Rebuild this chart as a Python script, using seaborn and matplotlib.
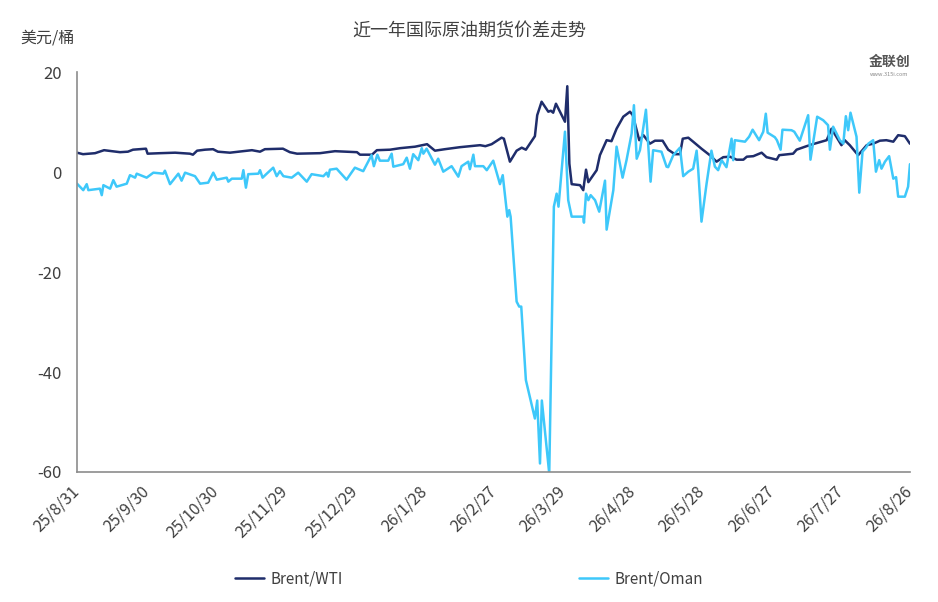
import seaborn as sns
import matplotlib.pyplot as plt
import pandas as pd

start_date = "2025-08-31"

# days after 2025-08-31
wti_days = [0, 2.6, 7.8, 11.7, 15.1, 18.6, 22.0, 24.2, 29.8, 30.5, 35.9, 42.4, 48.8, 50.1, 51.9,
            55.3, 58.8, 60.9, 66.1, 71.7, 75.6, 79.1, 81.2, 89.0, 92.0, 95.1, 105.0, 111.5, 121.0,
            122.3, 127.5, 129.6, 135.3, 139.6, 146.1, 151.3, 154.7, 159.0, 165.5, 172.0, 174.2,
            176.5, 179.2, 183.5, 184.5, 187.1, 190.0, 192.2, 194.0, 197.9, 198.9, 200.8, 203.7,
            204.8, 205.8, 207.0, 210.9, 211.9, 212.8, 213.8, 217.4, 218.8, 220.0, 221.0, 224.6,
            226.0, 228.9, 231.0, 233.2, 236.1, 239.0, 240.2, 243.0, 244.8, 247.6, 249.8, 253.1,
            255.5, 258.4, 260.6, 261.8, 264.2, 266.3, 269.9, 273.5, 276.4, 279.3, 282.2, 285.1,
            288.0, 289.5, 292.3, 295.9, 298.0, 302.4, 303.5, 309.5, 311.0, 315.3, 318.0, 324.0,
            326.1, 330.4, 331.8, 334.0, 337.6, 341.3, 344.1, 347.0, 349.8, 352.8, 354.9, 357.8,
            360.0]
wti_values = [3.9, 3.6, 3.8, 4.4, 4.2, 4.0, 4.1, 4.5, 4.7, 3.7, 3.8, 3.9, 3.7, 3.5, 4.3,
              4.5, 4.6, 4.1, 3.9, 4.2, 4.4, 4.1, 4.6, 4.7, 4.0, 3.7, 3.8, 4.2, 4.0,
              3.5, 3.5, 4.4, 4.5, 4.8, 5.1, 5.6, 4.3, 4.6, 5.0, 5.3, 5.4,
              5.2, 5.6, 6.9, 6.7, 2.1, 4.3, 4.9, 4.5, 7.2, 11.4, 14.1, 12.1,
              12.3, 11.9, 13.7, 10.1, 17.2, 1.7, -2.4, -2.6, -3.6, 0.5, -2.0, 0.4,
              3.4, 6.4, 6.2, 8.7, 11.1, 12.1, 11.4, 6.4, 7.4, 5.7, 6.3, 6.3,
              4.5, 3.6, 3.6, 6.7, 6.9, 6.1, 4.7, 3.4, 2.1, 3.0, 3.1, 2.5,
              2.5, 3.1, 3.2, 3.9, 3.0, 2.5, 3.4, 3.7, 4.5, 5.2, 5.6, 6.4,
              8.7, 5.4, 6.4, 5.4, 3.4, 5.4, 5.7, 6.3, 6.4, 6.1, 7.4, 7.2,
              5.7]

oman_days = [0, 2.7, 4.2, 4.9, 9.9, 10.7, 11.4, 14.3, 15.7, 17.1, 21.5, 22.9, 25.1, 25.8, 30.1,
             33.0, 37.3, 38.0, 40.2, 43.8, 45.2, 46.7, 51.0, 53.2, 56.7, 58.9, 60.4, 64.7, 65.4,
             66.9, 71.2, 71.9, 73.0, 74.0, 78.4, 79.1, 80.2, 82.0, 84.8, 86.3, 87.7, 89.2, 92.8,
             95.6, 99.3, 101.4, 106.5, 107.9, 108.6, 109.3, 112.2, 116.5, 120.1, 123.7, 127.3,
             128.3, 129.8, 130.9, 134.5, 136.0, 136.7, 141.0, 142.5, 143.9, 145.3, 147.5, 149.0,
             149.7, 151.1, 154.7, 156.1, 158.3, 161.9, 164.8, 166.2, 169.1, 169.8, 171.3, 172.0,
             175.6, 177.1, 179.9, 182.8, 184.0, 186.0, 186.8, 187.4, 190.0, 191.1, 192.0, 194.0,
             197.9, 198.9, 200.1, 200.9, 204.1, 206.1, 207.3, 208.1, 210.9, 212.3, 213.8, 218.8,
             219.1, 220.0, 221.0, 222.0, 223.9, 225.7, 228.2, 228.9, 231.8, 233.2, 235.8, 237.5,
             239.7, 240.7, 241.9, 243.3, 245.9, 247.9, 249.0, 252.6, 254.8, 255.5, 257.7, 260.6,
             262.0, 264.2, 266.3, 267.8, 268.5, 269.9, 272.1, 274.2, 275.7, 277.1, 278.6, 280.7,
             282.9, 283.6, 284.3, 288.7, 290.5, 292.0, 294.8, 296.6, 297.7, 298.5, 301.6, 302.5,
             304.1, 304.9, 308.8, 310.0, 312.4, 316.0, 317.0, 319.9, 322.5, 324.6, 325.4, 326.8,
             329.7, 331.2, 332.3, 333.3, 334.3, 336.9, 338.1, 339.5, 341.0, 342.0, 344.1, 345.3,
             346.7, 347.7, 349.2, 351.0, 352.8, 354.0, 354.9, 357.8, 359.2, 360.0]
oman_values = [-2.3, -3.6, -2.4, -3.6, -3.3, -4.6, -2.6, -3.3, -1.6, -2.9, -2.3, -0.6, -1.1, -0.3, -1.1,
               -0.1, -0.3, 0.3, -2.4, -0.3, -1.7, -0.1, -0.8, -2.3, -2.1, -0.1, -1.5, -1.1, -1.9,
               -1.3, -1.3, 0.4, -3.1, -0.4, -0.3, 0.4, -1.1, -0.3, 0.9, -0.8, 0.2, -0.8, -1.1,
               -0.1, -1.9, -0.4, -0.8, -0.1, -0.9, 0.5, 0.7, -1.5, 0.9, 0.2, 3.4,
               1.2, 3.5, 2.3, 2.3, 3.7, 1.1, 1.6, 2.9, 0.7, 3.6, 2.4, 4.8,
               3.7, 4.7, 1.5, 2.7, 0.1, 1.2, -0.9, 1.2, 2.1, 0.6, 3.5, 1.2,
               1.2, 0.4, 2.3, -2.4, -0.6, -8.9, -7.6, -8.9, -25.9, -26.9, -26.9, -41.6,
               -49.3, -45.7, -58.3, -45.7, -60.3, -6.9, -4.3, -6.9, 8.1, -5.6, -8.9, -8.9,
               -10.1, -4.3, -5.6, -4.6, -5.6, -7.9, -1.7, -11.5, -3.6, 5.1, -1.1, 2.4,
               7.7, 13.4, 2.7, 4.4, 12.5, -1.9, 4.4, 4.1, 1.1, 1.0, 3.4, 4.9,
               -0.8, 0.1, 0.7, 4.3, 0.4, -9.9, -2.3, 4.3, 1.1, 0.4, 2.4, 1.0,
               6.7, 2.4, 6.4, 6.1, 7.1, 8.5, 6.4, 8.1, 11.7, 7.9, 7.0, 6.4,
               4.5, 8.5, 8.4, 8.1, 6.3, 11.4, 2.5, 11.1, 10.4, 9.4, 4.5, 9.1,
               6.4, 5.7, 11.2, 8.4, 11.9, 7.1, -4.1, 4.1, 4.9, 5.7, 6.4, 0.1,
               2.4, 0.7, 2.1, 3.2, -1.3, -1.0, -4.9, -4.9, -2.9, 1.6]

tick_labels = ["25/8/31", "25/9/30", "25/10/30", "25/11/29", "25/12/29", "26/1/28", "26/2/27",
               "26/3/29", "26/4/28", "26/5/28", "26/6/27", "26/7/27", "26/8/26"]
y_ticks = [20, 0, -20, -40, -60]

base = pd.Timestamp(start_date)
wti = pd.DataFrame({"date": base + pd.to_timedelta(wti_days, unit="D"), "value": wti_values})
oman = pd.DataFrame({"date": base + pd.to_timedelta(oman_days, unit="D"), "value": oman_values})
tick_dates = pd.to_datetime(["20" + t.replace("/", "-") for t in tick_labels], format="%Y-%m-%d")

sns.set_theme(style="white")
plt.rcParams["font.family"] = ["Noto Sans CJK SC", "DejaVu Sans"]

text_color = "#404040"
axis_color = "#8c8c8c"

fig = plt.figure(figsize=(9.38, 6.02), dpi=100)
ax = fig.add_axes([0.0821, 0.216, 0.888, 0.664])

sns.lineplot(data=wti, x="date", y="value", ax=ax, color="#1f2d6b", linewidth=1.8, label="Brent/WTI")
sns.lineplot(data=oman, x="date", y="value", ax=ax, color="#3ec8fa", linewidth=1.8, label="Brent/Oman")

ax.set_xlim(tick_dates[0], tick_dates[-1])
ax.set_ylim(-60, 20)
ax.set_yticks(y_ticks)
ax.set_yticklabels([str(v) for v in y_ticks], fontsize=12, color=text_color)
ax.set_xticks(tick_dates)
ax.set_xticklabels(tick_labels, rotation=45, ha="right", va="center", rotation_mode="anchor",
                   fontsize=11.5, color=text_color)
ax.tick_params(axis="y", direction="out", length=5, color=axis_color, pad=6)
ax.tick_params(axis="x", direction="in", length=5, color=axis_color, pad=12)
ax.set_xlabel("")
ax.set_ylabel("")
for side in ["top", "right"]:
    ax.spines[side].set_visible(False)
for side in ["left", "bottom"]:
    ax.spines[side].set_color(axis_color)
    ax.spines[side].set_linewidth(1.2)

ax.legend_.remove()
handles, labels = ax.get_legend_handles_labels()
fig.legend(handles, labels, loc="center", bbox_to_anchor=(0.5, 0.039), ncol=2, frameon=False,
           fontsize=11, handlelength=1.9, handletextpad=0.4, columnspacing=15.5,
           labelcolor=text_color)

fig.text(0.5, 0.948, "近一年国际原油期货价差走势", ha="center", va="center", fontsize=13,
         color=text_color)
fig.text(0.022, 0.937, "美元/桶", ha="left", va="center", fontsize=11.5, color=text_color)
fig.text(0.948, 0.897, "金联创", ha="center", va="center", fontsize=10, color="#555555",
         fontweight="bold")
fig.text(0.948, 0.876, "www.315i.com", ha="center", va="center", fontsize=4, color="#888888")

fig.savefig("out.png", dpi=100)
